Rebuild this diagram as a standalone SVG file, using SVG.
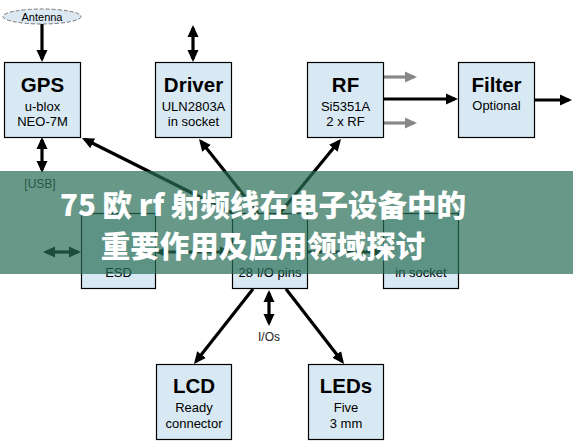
<svg xmlns="http://www.w3.org/2000/svg" width="573" height="447" viewBox="0 0 573 447">
<style>
.box{fill:#d8e9f4;stroke:#000;stroke-width:1.2}
.t{font-family:"Liberation Sans",Arial,sans-serif;font-weight:bold;font-size:20.5px;fill:#000;text-anchor:middle}
.s{font-family:"Liberation Sans",Arial,sans-serif;font-size:13px;fill:#000;text-anchor:middle}
.l{font-family:"Liberation Sans",Arial,sans-serif;font-size:12px;fill:#222;text-anchor:middle}
.c{fill:none;stroke:#000;stroke-width:3.2}
.g{fill:none;stroke:#888;stroke-width:3.2}
.b{font-family:"Noto Sans CJK SC","Noto Sans",sans-serif;font-weight:900;font-size:29.5px;fill:#fff;text-anchor:middle}
</style>
<defs>
<marker id="ah" viewBox="0 0 12 12" markerUnits="userSpaceOnUse" markerWidth="12" markerHeight="12" refX="9" refY="6" orient="auto-start-reverse"><path d="M0,0.5 L12,6 L0,11.5 z" fill="#000"/></marker>
<marker id="ag" viewBox="0 0 12 12" markerUnits="userSpaceOnUse" markerWidth="12" markerHeight="12" refX="9" refY="6" orient="auto-start-reverse"><path d="M0,0.5 L12,6 L0,11.5 z" fill="#888"/></marker>
</defs>
<rect width="573" height="447" fill="#fff"/>
<g id="connectors">
<path class="c" d="M42,24 V59" marker-end="url(#ah)"/>
<path class="c" d="M193,28 V59" marker-start="url(#ah)" marker-end="url(#ah)"/>
<path class="c" d="M42,140 V170" marker-start="url(#ah)" marker-end="url(#ah)"/>
<path class="c" d="M383,99 H455" marker-end="url(#ah)"/>
<path class="c" d="M534,100 H569" marker-end="url(#ah)"/>
<path class="g" d="M383,77 H414" marker-end="url(#ag)"/>
<path class="g" d="M383,123 H414" marker-end="url(#ag)"/>
<path class="c" d="M232,213 L84.7,139.3" marker-end="url(#ah)"/>
<path class="c" d="M258,213 L200.9,141.3" marker-end="url(#ah)"/>
<path class="c" d="M280,213 L339.1,141.3" marker-end="url(#ah)"/>
<path class="c" d="M253,289 L195.9,361.6" marker-end="url(#ah)"/>
<path class="c" d="M286,289 L342.2,361.6" marker-end="url(#ah)"/>
<path class="c" d="M269,293 V323" marker-start="url(#ah)" marker-end="url(#ah)"/>
<path class="c" d="M46,252 H78" marker-start="url(#ah)" marker-end="url(#ah)"/>
<path class="c" d="M158,252 H229" marker-start="url(#ah)" marker-end="url(#ah)"/>
<path class="c" d="M307,252 H380" marker-end="url(#ah)"/>
<text class="l" x="40" y="188" fill="#444">[USB]</text>
<text class="l" x="269" y="341">I/Os</text>
</g>
<g id="antenna">
<ellipse cx="42" cy="16.5" rx="39" ry="7.5" fill="#dce9f3" stroke="#777" stroke-width="1" stroke-dasharray="4,2"/>
<text x="42" y="20.5" font-family="Liberation Sans, Arial, sans-serif" font-size="11" text-anchor="middle">Antenna</text>
</g>
<g id="gps"><rect class="box" x="4.5" y="62.5" width="76" height="75"/><text class="t" x="42.5" y="92">GPS</text><text class="s" x="42.5" y="111">u-blox</text><text class="s" x="42.5" y="126">NEO-7M</text></g>
<g id="driver"><rect class="box" x="155.5" y="62.5" width="76" height="75"/><text class="t" x="193.5" y="92">Driver</text><text class="s" x="193.5" y="111">ULN2803A</text><text class="s" x="193.5" y="126">in socket</text></g>
<g id="rf"><rect class="box" x="307.5" y="62.5" width="76" height="75"/><text class="t" x="345.5" y="92">RF</text><text class="s" x="345.5" y="111">Si5351A</text><text class="s" x="345.5" y="126">2 x RF</text></g>
<g id="filter"><rect class="box" x="458.5" y="62.5" width="76" height="75"/><text class="t" x="496.5" y="92">Filter</text><text class="s" x="496.5" y="110">Optional</text></g>
<g id="usb"><rect class="box" x="81.5" y="213.5" width="74" height="75"/><text class="s" x="118.5" y="277">ESD</text></g>
<g id="pic"><rect class="box" x="232.5" y="213.5" width="75" height="75"/><text class="s" x="270" y="277">28 I/O pins</text></g>
<g id="right"><rect class="box" x="383.5" y="213.5" width="75" height="75"/><text class="s" x="421" y="277">in socket</text></g>
<g id="lcd"><rect class="box" x="156.5" y="364.5" width="75" height="75"/><text class="t" x="194" y="393">LCD</text><text class="s" x="194" y="412">Ready</text><text class="s" x="194" y="428">connector</text></g>
<g id="leds"><rect class="box" x="308.5" y="364.5" width="75" height="75"/><text class="t" x="346" y="393">LEDs</text><text class="s" x="346" y="412">Five</text><text class="s" x="346" y="428">3 mm</text></g>
<g id="banner">
<rect x="0" y="171" width="573" height="103" fill="rgb(40,110,85)" fill-opacity="0.7"/>
<text class="b" x="263" y="216">75 欧 rf 射频线在电子设备中的</text>
<text class="b" x="263" y="257">重要作用及应用领域探讨</text>
</g>
</svg>
